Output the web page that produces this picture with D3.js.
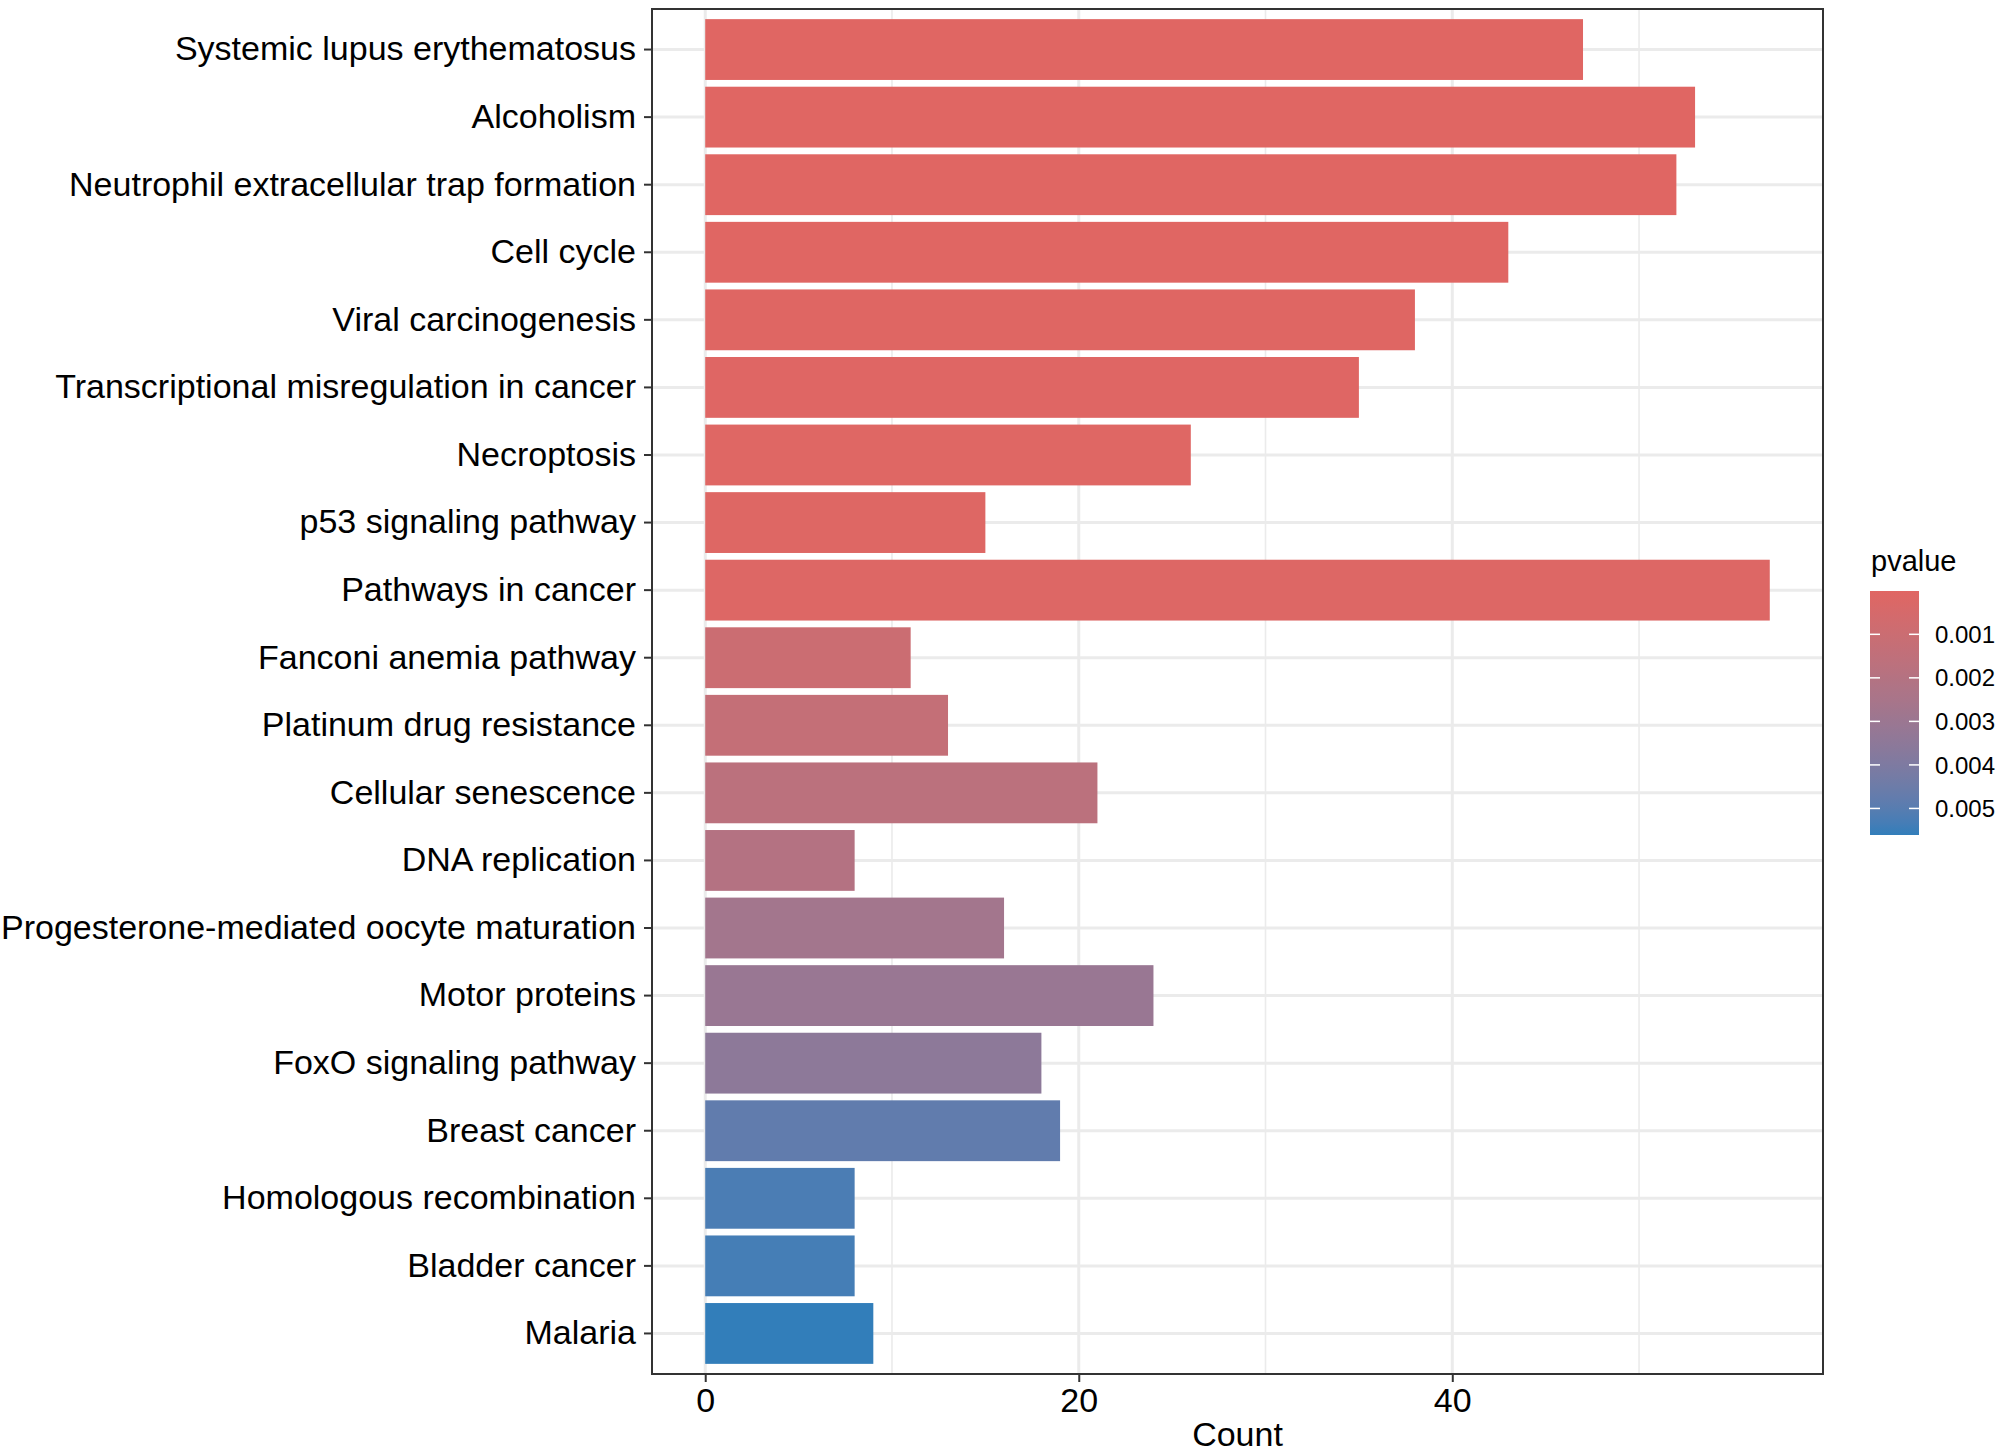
<!DOCTYPE html>
<html>
<head>
<meta charset="utf-8">
<script src="https://cdn.jsdelivr.net/npm/d3@7"></script>
<style>
  body { margin: 0; background: #fff; }
  text { font-family: "Liberation Sans", Arial, sans-serif; }
</style>
</head>
<body>
<div id="chart"></div>
<script>
// Data (top to bottom)
var pathways = [
  "Systemic lupus erythematosus",
  "Alcoholism",
  "Neutrophil extracellular trap formation",
  "Cell cycle",
  "Viral carcinogenesis",
  "Transcriptional misregulation in cancer",
  "Necroptosis",
  "p53 signaling pathway",
  "Pathways in cancer",
  "Fanconi anemia pathway",
  "Platinum drug resistance",
  "Cellular senescence",
  "DNA replication",
  "Progesterone-mediated oocyte maturation",
  "Motor proteins",
  "FoxO signaling pathway",
  "Breast cancer",
  "Homologous recombination",
  "Bladder cancer",
  "Malaria"
];
var counts = [47, 53, 52, 43, 38, 35, 26, 15, 57, 11, 13, 21, 8, 16, 24, 18, 19, 8, 8, 9];
var pvalues = [0.000005, 0.000008, 0.000012, 0.000020, 0.000035, 0.00005, 0.00007, 0.00010, 0.00013,
  0.00100, 0.00130, 0.00170, 0.00200, 0.00270, 0.00310, 0.00350, 0.00480, 0.00525, 0.00535, 0.00561];
var xTicks = [0, 20, 40];
var xMinor = [10, 30, 50];
var legendTicks = [0.001, 0.002, 0.003, 0.004, 0.005];

// Step 1: chart area
var svgWidth = 2000;
var svgHeight = 1456;
var panel = { left: 652, right: 1823, top: 9, bottom: 1374 };

var svg = d3.select("#chart").append("svg")
  .attr("width", svgWidth)
  .attr("height", svgHeight);

// Step 2: scales (ggplot style 5% expansion on x)
var xMax = d3.max(counts);
var xScale = d3.scaleLinear()
  .domain([-0.05 * xMax, xMax * 1.05])
  .range([panel.left, panel.right]);

var yScale = d3.scaleBand()
  .domain(pathways)
  .range([panel.top, panel.bottom])
  .paddingInner(0.1)
  .paddingOuter(0.15);

var pExtent = d3.extent(pvalues);
var color = d3.scaleLinear()
  .domain(pExtent)
  .range(["#e06663", "#327eba"])
  .interpolate(d3.interpolateLab);

// Step 3: grid lines
var grid = svg.append("g");
grid.selectAll(".minor").data(xMinor).enter().append("line")
  .attr("x1", d => xScale(d)).attr("x2", d => xScale(d))
  .attr("y1", panel.top).attr("y2", panel.bottom)
  .attr("stroke", "#ebebeb").attr("stroke-width", 1.6);
grid.selectAll(".majorx").data(xTicks).enter().append("line")
  .attr("x1", d => xScale(d)).attr("x2", d => xScale(d))
  .attr("y1", panel.top).attr("y2", panel.bottom)
  .attr("stroke", "#ebebeb").attr("stroke-width", 3);
grid.selectAll(".majory").data(pathways).enter().append("line")
  .attr("x1", panel.left).attr("x2", panel.right)
  .attr("y1", d => yScale(d) + yScale.bandwidth() / 2)
  .attr("y2", d => yScale(d) + yScale.bandwidth() / 2)
  .attr("stroke", "#ebebeb").attr("stroke-width", 3);

// Step 4: bars
svg.append("g").selectAll("rect")
  .data(pathways)
  .enter()
  .append("rect")
  .attr("x", xScale(0))
  .attr("y", d => yScale(d))
  .attr("width", (d, i) => xScale(counts[i]) - xScale(0))
  .attr("height", yScale.bandwidth())
  .attr("fill", (d, i) => color(pvalues[i]));

// panel border
svg.append("rect")
  .attr("x", panel.left).attr("y", panel.top)
  .attr("width", panel.right - panel.left)
  .attr("height", panel.bottom - panel.top)
  .attr("fill", "none")
  .attr("stroke", "#333")
  .attr("stroke-width", 2);

// Step 5: axes
var xAxis = d3.axisBottom(xScale).tickValues(xTicks).tickSize(8).tickPadding(6);
var gx = svg.append("g")
  .attr("transform", `translate(0, ${panel.bottom})`)
  .call(xAxis);

var yAxis = d3.axisLeft(yScale).tickSize(8).tickPadding(8);
var gy = svg.append("g")
  .attr("transform", `translate(${panel.left}, 0)`)
  .call(yAxis);

[gx, gy].forEach(function(g) {
  g.select(".domain").remove();
  g.selectAll(".tick line").attr("stroke", "#333").attr("stroke-width", 2);
  g.selectAll(".tick text")
    .attr("fill", "#000")
    .attr("font-family", "Liberation Sans, Arial, sans-serif")
    .attr("font-size", "34px");
});

// x axis title
svg.append("text")
  .attr("x", (panel.left + panel.right) / 2)
  .attr("y", 1446)
  .attr("text-anchor", "middle")
  .attr("font-size", "34px")
  .attr("fill", "#000")
  .text("Count");

// Step 6: colour bar legend
var legend = { x: 1870, w: 49, top: 591, bottom: 835 };
var legendScale = d3.scaleLinear()
  .domain(pExtent)
  .range([legend.top, legend.bottom]);

var defs = svg.append("defs");
var grad = defs.append("linearGradient")
  .attr("id", "pgrad")
  .attr("x1", 0).attr("y1", 0).attr("x2", 0).attr("y2", 1);
d3.range(0, 1.0001, 0.05).forEach(function(t) {
  grad.append("stop")
    .attr("offset", t)
    .attr("stop-color", color(pExtent[0] + t * (pExtent[1] - pExtent[0])));
});

svg.append("rect")
  .attr("x", legend.x).attr("y", legend.top)
  .attr("width", legend.w).attr("height", legend.bottom - legend.top)
  .attr("fill", "url(#pgrad)");

var lt = svg.append("g").selectAll("g").data(legendTicks).enter().append("g");
lt.append("line")
  .attr("x1", legend.x).attr("x2", legend.x + 10)
  .attr("y1", d => legendScale(d)).attr("y2", d => legendScale(d))
  .attr("stroke", "#fff").attr("stroke-width", 1.5);
lt.append("line")
  .attr("x1", legend.x + legend.w - 10).attr("x2", legend.x + legend.w)
  .attr("y1", d => legendScale(d)).attr("y2", d => legendScale(d))
  .attr("stroke", "#fff").attr("stroke-width", 1.5);
lt.append("text")
  .attr("x", legend.x + legend.w + 16)
  .attr("y", d => legendScale(d))
  .attr("dy", "0.36em")
  .attr("font-size", "24px")
  .attr("fill", "#000")
  .text(d => d3.format(".3f")(d));

svg.append("text")
  .attr("x", 1871)
  .attr("y", 571)
  .attr("font-size", "29px")
  .attr("fill", "#000")
  .text("pvalue");
</script>
</body>
</html>
